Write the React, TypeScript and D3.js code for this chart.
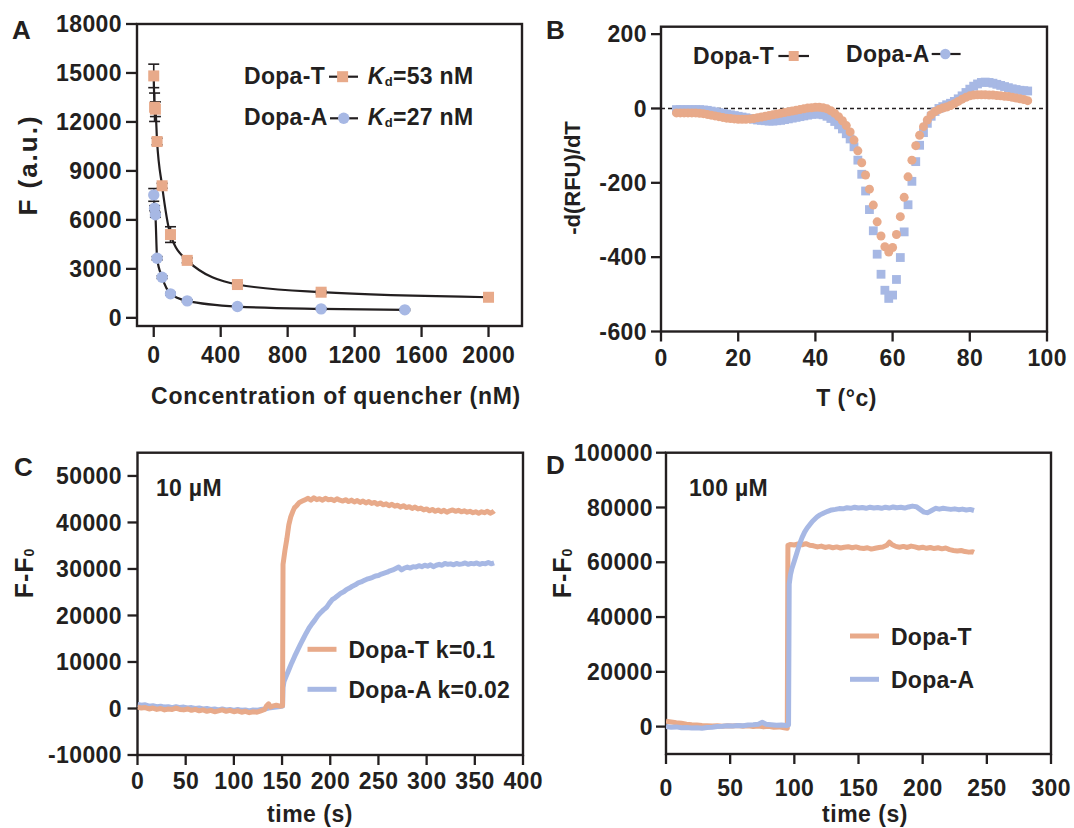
import React from 'react';
import * as d3 from 'd3';

const ORANGE = '#E8AA8A';
const BLUE = '#A7B8E4';
const INK = '#231F20';
const FONT = '"Liberation Sans", Arial, Helvetica, sans-serif';

// ---------- Panel A data ----------
const aConcT = [0, 5, 10, 20, 50, 100, 200, 500, 1000, 2000];
const aFT = [14820, 12900, 12780, 10800, 8090, 5100, 3520, 2040, 1570, 1260];
const aErrT = [720, 870, 450, 200, 150, 480, 150, 100, 100, 100];
const aConcA = [0, 5, 10, 20, 50, 100, 200, 500, 1000, 1500];
const aFA = [7530, 6720, 6310, 3650, 2490, 1470, 1040, 690, 550, 490];
const aErrA = [390, 150, 150, 100, 80, 80, 60, 50, 50, 50];
const aXTicks = [0, 400, 800, 1200, 1600, 2000];
const aYTicks = [0, 3000, 6000, 9000, 12000, 15000, 18000];

// ---------- Panel B data ----------
const bTemp = [4, 5, 6, 7, 8, 9, 10, 11, 12, 13, 14, 15, 16, 17, 18, 19, 20, 21, 22, 23, 24, 25, 26, 27, 28, 29, 30, 31, 32, 33, 34, 35, 36, 37, 38, 39, 40, 41, 42, 43, 44, 45, 46, 47, 48, 49, 50, 51, 52, 53, 54, 55, 56, 57, 58, 59, 60, 61, 62, 63, 64, 65, 66, 67, 68, 69, 70, 71, 72, 73, 74, 75, 76, 77, 78, 79, 80, 81, 82, 83, 84, 85, 86, 87, 88, 89, 90, 91, 92, 93, 94, 95];
const bCircles = [-12, -12, -12, -12, -12, -12, -13, -14, -16, -18, -20, -22, -24, -26, -27, -28, -29, -29, -29, -28, -27, -25, -23, -21, -19, -17, -15, -13, -11, -9, -7, -5, -3, -1, 1, 2, 3, 3, 2, -1, -6, -13, -22, -33, -46, -63, -85, -114, -146, -179, -217, -260, -305, -343, -372, -386, -374, -339, -291, -239, -184, -139, -100, -72, -49, -31, -17, -8, -3, 1, 4, 8, 13, 19, 25, 30, 34, 36, 37, 37, 37, 36, 36, 35, 34, 33, 32, 30, 28, 26, 24, 21];
const bSquares = [-3, -3, -3, -3, -3, -3, -3, -4, -5, -7, -9, -11, -13, -15, -17, -19, -21, -23, -25, -27, -29, -31, -32, -33, -34, -34, -33, -32, -30, -28, -26, -24, -22, -20, -18, -16, -15, -15, -17, -21, -27, -35, -44, -55, -68, -82, -103, -139, -177, -222, -272, -329, -392, -446, -489, -511, -502, -460, -401, -332, -259, -196, -143, -99, -65, -40, -21, -8, 0, 5, 10, 14, 19, 26, 34, 43, 52, 60, 66, 70, 71, 70, 68, 65, 62, 59, 56, 53, 51, 49, 48, 47];
const bXTicks = [0, 20, 40, 60, 80, 100];
const bYTicks = [-600, -400, -200, 0, 200];

// ---------- Panel C data (time s, F-F0) ----------
const cDopaT: [number, number][] = [[0,300],[4,100],[8,200],[12,-100],[16,100],[20,-200],[24,0],[28,-300],[32,-100],[36,-200],[40,100],[44,-200],[48,-300],[52,-100],[56,-400],[60,-200],[64,-500],[68,-300],[72,-600],[76,-400],[80,-700],[84,-500],[88,-300],[92,-600],[96,-400],[100,-700],[104,-500],[108,-800],[112,-600],[116,-900],[120,-700],[124,-800],[128,-500],[132,-200],[134,600],[136,1000],[138,300],[140,500],[144,700],[148,500],[150.5,600],[151,31000],[152,32500],[153,34000],[155,36500],[157,39500],[159,41200],[161,42300],[163,43200],[165,43600],[168,44300],[171,44600],[174,44900],[177,45200],[180,44800],[183,45300],[186,44900],[189,45100],[192,44800],[195,45200],[198,44900],[201,45000],[204,44700],[207,45100],[210,44800],[213,44600],[216,44900],[219,44500],[222,44800],[225,44400],[228,44700],[231,44300],[234,44600],[237,44200],[240,44500],[243,44100],[246,44300],[249,43900],[252,44200],[255,43800],[258,44000],[261,43600],[264,43900],[267,43500],[270,43700],[273,43300],[276,43600],[279,43200],[282,43400],[285,43000],[288,43300],[291,42900],[294,43100],[297,42700],[300,42900],[303,42500],[306,42800],[309,42400],[312,42700],[315,42300],[318,42600],[321,42200],[324,42500],[327,42700],[330,42400],[333,42600],[336,42300],[339,42500],[342,42200],[345,42400],[348,42100],[351,42300],[354,42000],[357,42300],[360,42100],[363,42400],[366,42000],[369,42300],[370,42500]];
const cDopaA: [number, number][] = [[0,900],[4,700],[8,800],[12,500],[16,600],[20,400],[24,500],[28,300],[32,400],[36,200],[40,400],[44,200],[48,300],[52,100],[56,200],[60,0],[64,100],[68,-100],[72,0],[76,-200],[80,-100],[84,-300],[88,-100],[92,-300],[96,-200],[100,-400],[104,-200],[108,-400],[112,-300],[116,-500],[120,-300],[124,-400],[128,-200],[132,-100],[136,100],[140,200],[144,300],[148,400],[150.5,500],[151,4500],[152,5800],[154,6800],[156,7800],[158,8800],[160,9800],[163,11200],[166,12500],[169,13800],[172,15000],[175,16200],[178,17300],[181,18200],[184,19000],[187,19900],[190,20600],[193,21200],[196,21700],[199,22600],[202,23400],[205,23800],[208,24300],[211,24800],[214,25100],[217,25600],[220,25900],[223,26300],[226,26600],[229,27000],[232,27200],[235,27500],[238,27800],[241,28000],[244,28200],[247,28500],[250,28600],[253,28900],[256,29100],[259,29300],[262,29600],[265,29800],[268,30100],[271,30400],[274,29800],[277,30200],[280,30400],[283,30200],[286,30500],[289,30400],[292,30700],[295,30500],[298,30800],[301,30600],[304,30900],[307,30500],[310,30800],[313,31000],[316,30800],[319,31200],[322,31000],[325,31100],[328,30900],[331,31200],[334,31000],[337,31100],[340,31300],[343,31000],[346,31200],[349,31100],[352,31300],[355,31000],[358,31200],[361,31100],[364,31400],[367,31100],[370,31300]];
const cXTicks = [0, 50, 100, 150, 200, 250, 300, 350, 400];
const cYTicks = [-10000, 0, 10000, 20000, 30000, 40000, 50000];

// ---------- Panel D data (time s, F-F0) ----------
const dDopaT: [number, number][] = [[0,2000],[4,1700],[8,1400],[12,1200],[16,900],[20,700],[24,600],[28,400],[32,300],[36,200],[40,300],[44,100],[48,300],[52,200],[56,400],[60,100],[64,300],[68,0],[72,200],[76,-100],[80,100],[84,-200],[88,-100],[92,-400],[94.5,-600],[95,66200],[97,66500],[100,66300],[103,66700],[106,66400],[109,66800],[112,66200],[115,66000],[118,65600],[121,65900],[124,65400],[127,65700],[130,65300],[133,65600],[136,65200],[139,65500],[142,65700],[145,65300],[148,65600],[151,65200],[154,65000],[157,65300],[160,64800],[163,65100],[166,65400],[169,65600],[172,66200],[174,67300],[176,66500],[179,65800],[182,65500],[185,65800],[188,65400],[191,65900],[194,65600],[197,65200],[200,65500],[203,65100],[206,65400],[209,65000],[212,65300],[215,64900],[218,65200],[221,64600],[224,64300],[227,64100],[230,64300],[233,63900],[236,63700],[239,63800],[240,63600]];
const dDopaA: [number, number][] = [[0,0],[4,-200],[8,-100],[12,-400],[16,-300],[20,-500],[24,-400],[28,-600],[32,-300],[36,-200],[40,0],[44,100],[48,300],[52,200],[56,400],[60,300],[64,600],[68,700],[72,900],[75,1600],[78,900],[82,700],[86,500],[90,600],[94,400],[95.5,600],[96,52000],[97,55500],[98,57500],[100,60500],[102,63500],[104,66500],[106,69000],[108,71000],[110,72500],[112,73700],[114,74900],[116,75800],[118,76700],[120,77300],[123,78000],[126,78600],[129,79100],[132,79300],[135,79600],[138,79500],[141,79900],[144,79700],[147,80100],[150,79800],[153,80000],[156,79700],[159,80100],[162,79800],[165,80000],[168,79700],[171,80100],[174,79800],[177,80200],[180,79900],[183,80100],[186,79800],[189,80200],[192,80500],[195,80300],[198,79300],[201,78300],[204,78100],[207,78900],[210,79700],[213,79400],[216,79700],[219,79500],[222,79300],[225,79500],[228,79200],[231,79400],[234,79100],[237,79300],[240,78900]];
const dXTicks = [0, 50, 100, 150, 200, 250, 300];
const dYTicks = [0, 20000, 40000, 60000, 80000, 100000];

const txt = { fontFamily: FONT, fontWeight: 700 as const, fill: INK };
const FS = 23;

type Sc = d3.ScaleLinear<number, number>;

function Axes({ xs, ys, xTicks, yTicks, yLabelRight, xLabelBase, tick = 10 }: {
  xs: Sc; ys: Sc; xTicks: number[]; yTicks: number[]; yLabelRight: number; xLabelBase: number; tick?: number;
}) {
  const [xl, xr] = xs.range();
  const [yb, yt] = ys.range();
  return (
    <g>
      <rect x={xl} y={yt} width={xr - xl} height={yb - yt} fill="none" stroke={INK} strokeWidth={2.4} />
      {yTicks.map((v) => (
        <g key={'y' + v}>
          <line x1={xl - tick} x2={xl} y1={ys(v)} y2={ys(v)} stroke={INK} strokeWidth={2.3} />
          <text x={yLabelRight} y={ys(v) + 8.2} textAnchor="end" fontSize={FS} letterSpacing={0.4} {...txt}>{v}</text>
        </g>
      ))}
      {xTicks.map((v) => (
        <g key={'x' + v}>
          <line x1={xs(v)} x2={xs(v)} y1={yb} y2={yb + tick} stroke={INK} strokeWidth={2.3} />
          <text x={xs(v) + 0.2} y={xLabelBase} textAnchor="middle" fontSize={FS} letterSpacing={0.4} {...txt}>{v}</text>
        </g>
      ))}
    </g>
  );
}

function PanelA() {
  const xs = d3.scaleLinear().domain([-100, 2200]).range([137, 522]);
  const ys = d3.scaleLinear().domain([-500, 18000]).range([326, 24]);
  const line = d3.line<[number, number]>().x((d) => xs(d[0])).y((d) => ys(d[1])).curve(d3.curveMonotoneX);
  const ptsT = aConcT.map((c, i) => [c, aFT[i]] as [number, number]);
  const ptsA = aConcA.map((c, i) => [c, aFA[i]] as [number, number]);
  const errBars = (conc: number[], f: number[], err: number[]) =>
    conc.map((c, i) => (
      <g key={i} stroke={INK} strokeWidth={1.6}>
        <line x1={xs(c)} x2={xs(c)} y1={ys(f[i] - err[i])} y2={ys(f[i] + err[i])} />
        <line x1={xs(c) - 5.5} x2={xs(c) + 5.5} y1={ys(f[i] + err[i])} y2={ys(f[i] + err[i])} />
        <line x1={xs(c) - 5.5} x2={xs(c) + 5.5} y1={ys(f[i] - err[i])} y2={ys(f[i] - err[i])} />
      </g>
    ));
  return (
    <g>
      <Axes xs={xs} ys={ys} xTicks={aXTicks} yTicks={aYTicks} yLabelRight={122} xLabelBase={363} tick={11} />
      <path d={line(ptsT) || ''} fill="none" stroke={INK} strokeWidth={2.2} />
      <path d={line(ptsA) || ''} fill="none" stroke={INK} strokeWidth={2.2} />
      {errBars(aConcT, aFT, aErrT)}
      {errBars(aConcA, aFA, aErrA)}
      {ptsT.map((d, i) => (
        <rect key={'s' + i} x={xs(d[0]) - 5.5} y={ys(d[1]) - 5.5} width={11} height={11} fill={ORANGE} />
      ))}
      {ptsA.map((d, i) => (
        <circle key={'c' + i} cx={xs(d[0])} cy={ys(d[1])} r={5.7} fill={BLUE} />
      ))}
      <text x={12} y={39} fontSize={26} {...txt}>A</text>
      <text transform="translate(28,165) rotate(-90)" textAnchor="middle" dominantBaseline="central" fontSize={26} letterSpacing={2} {...txt}>F (a.u.)</text>
      <text x={336} y={404} textAnchor="middle" fontSize={FS} letterSpacing={0.7} {...txt}>Concentration of quencher (nM)</text>
      {/* legend */}
      <text x={244} y={84} fontSize={FS} letterSpacing={0.3} {...txt}>Dopa-T</text>
      <line x1={329} x2={358} y1={76.7} y2={76.7} stroke={INK} strokeWidth={2.2} />
      <rect x={342.6 - 5.5} y={76.7 - 5.5} width={11} height={11} fill={ORANGE} />
      <text x={367.8} y={84} fontSize={FS} letterSpacing={0.3} {...txt}>
        <tspan fontStyle="italic">K</tspan><tspan fontSize={13} dy={2}>d</tspan><tspan dy={-2}>=53 nM</tspan>
      </text>
      <text x={244} y={125} fontSize={FS} letterSpacing={0.3} {...txt}>Dopa-A</text>
      <line x1={330} x2={358} y1={118.3} y2={118.3} stroke={INK} strokeWidth={2.2} />
      <circle cx={343.7} cy={118.3} r={5.7} fill={BLUE} />
      <text x={367.8} y={125} fontSize={FS} letterSpacing={0.3} {...txt}>
        <tspan fontStyle="italic">K</tspan><tspan fontSize={13} dy={2}>d</tspan><tspan dy={-2}>=27 nM</tspan>
      </text>
    </g>
  );
}

function PanelB() {
  const xs = d3.scaleLinear().domain([0, 100]).range([661, 1047]);
  const ys = d3.scaleLinear().domain([-600, 220]).range([331.5, 26.7]);
  return (
    <g>
      <Axes xs={xs} ys={ys} xTicks={bXTicks} yTicks={bYTicks} yLabelRight={647} xLabelBase={366} />
      <line x1={xs(0)} x2={xs(100)} y1={ys(0)} y2={ys(0)} stroke={INK} strokeWidth={1.6} strokeDasharray="4,3" />
      {bTemp.map((t, i) => (
        <rect key={'q' + i} x={xs(t) - 4.4} y={ys(bSquares[i]) - 4.4} width={8.8} height={8.8} fill={BLUE} />
      ))}
      {bTemp.map((t, i) => (
        <circle key={'o' + i} cx={xs(t)} cy={ys(bCircles[i])} r={4.5} fill={ORANGE} />
      ))}
      <text x={546} y={39} fontSize={26} {...txt}>B</text>
      <text transform="translate(572,178) rotate(-90)" textAnchor="middle" dominantBaseline="central" fontSize={22} letterSpacing={0} {...txt}>-d(RFU)/dT</text>
      <text x={846.5} y={406} textAnchor="middle" fontSize={FS} letterSpacing={0.5} {...txt}>T (°c)</text>
      <text x={693} y={64} fontSize={FS} letterSpacing={0.3} {...txt}>Dopa-T</text>
      <line x1={778.4} x2={809} y1={56} y2={56} stroke={INK} strokeWidth={2.2} />
      <rect x={793.7 - 5} y={56 - 5} width={10} height={10} fill={ORANGE} />
      <text x={846} y={62} fontSize={FS} letterSpacing={0.3} {...txt}>Dopa-A</text>
      <line x1={931.7} x2={960.6} y1={54} y2={54} stroke={INK} strokeWidth={2.2} />
      <circle cx={945.3} cy={54} r={5.2} fill={BLUE} />
    </g>
  );
}

function KineticPanel({ xs, ys, xTicks, yTicks, yLabelRight, xLabelBase, seriesT, seriesA, letter, letterX, letterY,
  yTitleX, concLabel, concX, xTitleX, xTitleBase, legX, legY1, legY2, labT, labA, blueOnTop }: any) {
  const line = d3.line<[number, number]>().x((d) => xs(d[0])).y((d) => ys(d[1]));
  const [xl, xr] = xs.range();
  const [yb, yt] = ys.range();
  const pT = <path d={line(seriesT) || ''} fill="none" stroke={ORANGE} strokeWidth={5} strokeLinejoin="round" />;
  const pA = <path d={line(seriesA) || ''} fill="none" stroke={BLUE} strokeWidth={5} strokeLinejoin="round" />;
  return (
    <g>
      <defs>
        <clipPath id={'clip' + letter}><rect x={xl} y={yt} width={xr - xl} height={yb - yt} /></clipPath>
      </defs>
      <Axes xs={xs} ys={ys} xTicks={xTicks} yTicks={yTicks} yLabelRight={yLabelRight} xLabelBase={xLabelBase} />
      <g clipPath={`url(#clip${letter})`}>
        {blueOnTop ? (<>{pT}{pA}</>) : (<>{pA}{pT}</>)}
      </g>
      <text x={letterX} y={letterY} fontSize={26} {...txt}>{letter}</text>
      <text transform={`translate(${yTitleX},573) rotate(-90)`} textAnchor="middle" dominantBaseline="central" fontSize={25} letterSpacing={1} {...txt}>
        F-F<tspan fontSize={14} dy={5}>0</tspan>
      </text>
      <text x={concX} y={496} fontSize={FS} letterSpacing={0.3} {...txt}>{concLabel}</text>
      <text x={xTitleX} y={xTitleBase} textAnchor="middle" fontSize={FS} letterSpacing={0.5} {...txt}>time (s)</text>
      <line x1={legX} x2={legX + 29} y1={legY1} y2={legY1} stroke={ORANGE} strokeWidth={5} />
      <line x1={legX} x2={legX + 29} y1={legY2} y2={legY2} stroke={BLUE} strokeWidth={5} />
      <text x={legX + 41} y={legY1 + 8.5} fontSize={FS} letterSpacing={0.25} {...txt}>{labT}</text>
      <text x={legX + 41} y={legY2 + 8.5} fontSize={FS} letterSpacing={0.25} {...txt}>{labA}</text>
    </g>
  );
}

export default function App() {
  const cx = d3.scaleLinear().domain([0, 400]).range([137.5, 523]);
  const cy = d3.scaleLinear().domain([-10000, 55000]).range([755, 452.7]);
  const dx = d3.scaleLinear().domain([0, 300]).range([666, 1051]);
  const dy = d3.scaleLinear().domain([-10000, 100000]).range([754, 452.7]);
  return (
    <svg width={1074} height={828} viewBox="0 0 1074 828" style={{ position: 'absolute', left: 0, top: 0, background: '#fff' }}>
      <rect width={1074} height={828} fill="#fff" />
      <PanelA />
      <PanelB />
      <KineticPanel xs={cx} ys={cy} xTicks={cXTicks} yTicks={cYTicks} yLabelRight={122} xLabelBase={789}
        seriesT={cDopaT} seriesA={cDopaA} letter="C" letterX={14} letterY={476} yTitleX={24}
        concLabel="10 µM" concX={156} xTitleX={310} xTitleBase={822}
        legX={307.5} legY1={649.3} legY2={689.3} labT="Dopa-T k=0.1" labA="Dopa-A k=0.02" blueOnTop={false} />
      <KineticPanel xs={dx} ys={dy} xTicks={dXTicks} yTicks={dYTicks} yLabelRight={653} xLabelBase={796}
        seriesT={dDopaT} seriesA={dDopaA} letter="D" letterX={546} letterY={474} yTitleX={562}
        concLabel="100 µM" concX={689} xTitleX={865} xTitleBase={822}
        legX={850} legY1={636} legY2={679.3} labT="Dopa-T" labA="Dopa-A" blueOnTop={true} />
    </svg>
  );
}
